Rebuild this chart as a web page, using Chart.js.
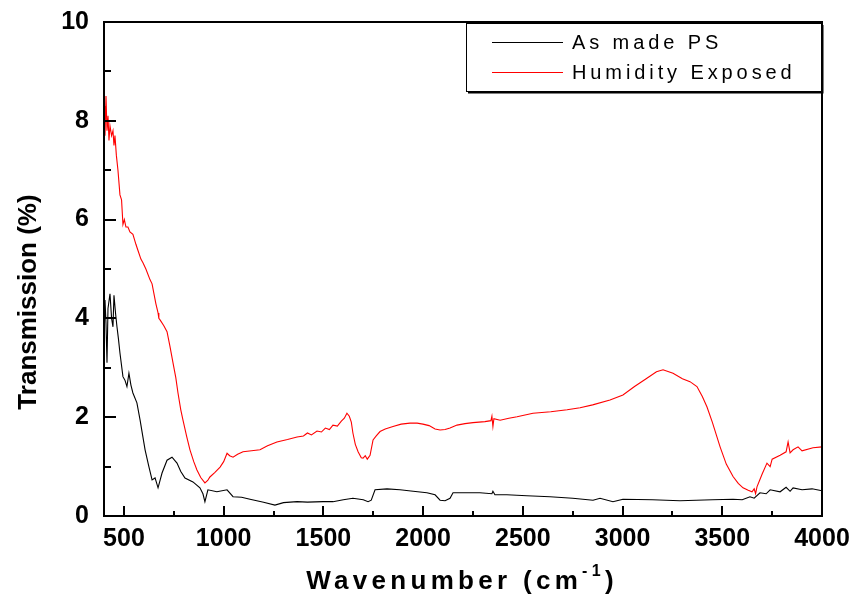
<!DOCTYPE html>
<html>
<head>
<meta charset="utf-8">
<script src="https://cdn.jsdelivr.net/npm/chart.js@4.4.1/dist/chart.umd.min.js"></script>
<style>
  html, body { margin: 0; padding: 0; background: #fff; }
  #wrap { width: 855px; height: 605px; }
</style>
</head>
<body>
<div id="wrap"><canvas id="ftirChart" width="855" height="605"></canvas></div>
<script>

// wavenumber (cm-1) and transmission (%)
const asMadeX = [400, 405, 410, 415, 420, 430, 438, 445, 450, 458, 465, 472, 480, 495, 505, 515, 525, 535, 545, 565, 581, 595, 606, 625, 641, 656, 671, 691, 716, 741, 766, 785, 806, 846, 881, 896, 906, 921, 966, 1017, 1047, 1090, 1132, 1200, 1257, 1300, 1368, 1420, 1498, 1548, 1600, 1648, 1700, 1724, 1740, 1759, 1819, 1884, 1950, 2019, 2060, 2085, 2110, 2135, 2150, 2285, 2345, 2350, 2360, 2420, 2520, 2636, 2750, 2852, 2887, 2952, 3002, 3150, 3288, 3450, 3554, 3600, 3639, 3660, 3689, 3720, 3740, 3790, 3820, 3840, 3855, 3900, 3950, 4000];
const asMadeY = [4.0, 4.37, 3.9, 3.1, 4.2, 4.5, 4.0, 3.83, 4.47, 4.1, 3.83, 3.6, 3.3, 2.82, 2.75, 2.62, 2.89, 2.65, 2.49, 2.29, 1.94, 1.6, 1.34, 1.0, 0.73, 0.77, 0.57, 0.87, 1.13, 1.19, 1.07, 0.9, 0.77, 0.69, 0.57, 0.45, 0.29, 0.53, 0.49, 0.53, 0.39, 0.38, 0.34, 0.28, 0.22, 0.27, 0.29, 0.28, 0.29, 0.29, 0.33, 0.36, 0.33, 0.29, 0.32, 0.53, 0.55, 0.53, 0.5, 0.47, 0.43, 0.32, 0.31, 0.36, 0.47, 0.47, 0.45, 0.5, 0.43, 0.43, 0.41, 0.39, 0.36, 0.32, 0.36, 0.29, 0.34, 0.33, 0.31, 0.33, 0.34, 0.33, 0.39, 0.36, 0.47, 0.45, 0.53, 0.49, 0.58, 0.5, 0.57, 0.53, 0.55, 0.51];

const humidX = [400, 405, 410, 415, 420, 425, 430, 438, 445, 450, 455, 462, 470, 480, 488, 495, 502, 510, 520, 530, 545, 560, 570, 585, 596, 610, 631, 641, 660, 671, 675, 681, 700, 716, 730, 746, 760, 771, 785, 796, 815, 831, 850, 866, 885, 906, 920, 931, 955, 982, 1000, 1017, 1030, 1047, 1070, 1097, 1140, 1182, 1220, 1267, 1320, 1368, 1400, 1420, 1440, 1468, 1490, 1510, 1530, 1548, 1570, 1590, 1605, 1618, 1630, 1640, 1648, 1660, 1674, 1690, 1699, 1710, 1720, 1734, 1749, 1765, 1784, 1810, 1849, 1890, 1934, 1970, 1999, 2030, 2060, 2085, 2110, 2135, 2170, 2210, 2250, 2310, 2340, 2345, 2350, 2355, 2386, 2430, 2471, 2551, 2640, 2722, 2787, 2850, 2937, 3002, 3060, 3122, 3170, 3203, 3253, 3300, 3338, 3373, 3400, 3423, 3450, 3489, 3520, 3554, 3580, 3604, 3630, 3649, 3660, 3667, 3674, 3700, 3724, 3740, 3750, 3790, 3820, 3830, 3840, 3855, 3880, 3900, 3955, 4000];
const humidY = [8.3, 7.7, 8.5, 7.8, 8.1, 7.6, 7.9, 7.7, 7.8, 7.5, 7.7, 7.3, 7.0, 6.5, 6.4, 5.9, 6.0, 5.85, 5.85, 5.75, 5.7, 5.5, 5.38, 5.2, 5.12, 5.0, 4.78, 4.7, 4.3, 4.11, 4.0, 3.97, 3.85, 3.73, 3.45, 3.1, 2.8, 2.49, 2.15, 1.94, 1.6, 1.34, 1.1, 0.93, 0.78, 0.67, 0.72, 0.79, 0.88, 0.99, 1.1, 1.27, 1.22, 1.19, 1.25, 1.3, 1.32, 1.34, 1.42, 1.5, 1.55, 1.6, 1.62, 1.68, 1.64, 1.72, 1.7, 1.78, 1.75, 1.84, 1.82, 1.92, 1.98, 2.08, 2.02, 1.9, 1.68, 1.45, 1.3, 1.18, 1.17, 1.22, 1.15, 1.23, 1.54, 1.62, 1.71, 1.76, 1.81, 1.86, 1.88, 1.88, 1.86, 1.83, 1.76, 1.74, 1.75, 1.78, 1.84, 1.87, 1.89, 1.91, 1.93, 2.02, 1.81, 1.97, 1.94, 1.98, 2.01, 2.08, 2.11, 2.15, 2.19, 2.25, 2.35, 2.45, 2.62, 2.79, 2.92, 2.96, 2.89, 2.78, 2.72, 2.62, 2.42, 2.21, 1.9, 1.40, 1.05, 0.80, 0.66, 0.57, 0.52, 0.49, 0.55, 0.45, 0.59, 0.85, 1.07, 1.0, 1.15, 1.23, 1.3, 1.5, 1.28, 1.34, 1.4, 1.32, 1.38, 1.40];

const xMajor = [500, 1000, 1500, 2000, 2500, 3000, 3500, 4000];
const xMinor = [750, 1250, 1750, 2250, 2750, 3250, 3750];
const yMajor = [0, 2, 4, 6, 8, 10];
const yMinor = [1, 3, 5, 7, 9];

const seriesNames = ["As made PS", "Humidity Exposed"];
const seriesColors = ["#000000", "#ff0000"];

const FONT = "Arial, 'Liberation Sans', sans-serif";

function toPoints(xs, ys) {
    return xs.map((x, i) => ({ x: x, y: ys[i] }));
}

// frame, inward ticks, axis titles and boxed legend
const framePlugin = {
    id: "frame",
    afterDraw(chart) {
        const ctx = chart.ctx;
        const a = chart.chartArea;
        const xs = chart.scales.x;
        const ys = chart.scales.y;

        ctx.save();
        ctx.strokeStyle = "#000";
        ctx.lineWidth = 2;
        ctx.strokeRect(a.left, a.top, a.right - a.left, a.bottom - a.top);

        ctx.beginPath();
        xMajor.forEach(v => {
            const p = Math.round(xs.getPixelForValue(v));
            ctx.moveTo(p, a.bottom);
            ctx.lineTo(p, a.bottom - 10);
        });
        xMinor.forEach(v => {
            const p = Math.round(xs.getPixelForValue(v));
            ctx.moveTo(p, a.bottom);
            ctx.lineTo(p, a.bottom - 5);
        });
        yMajor.forEach(v => {
            const p = Math.round(ys.getPixelForValue(v));
            ctx.moveTo(a.left, p);
            ctx.lineTo(a.left + 12, p);
        });
        yMinor.forEach(v => {
            const p = Math.round(ys.getPixelForValue(v));
            ctx.moveTo(a.left, p);
            ctx.lineTo(a.left + 7, p);
        });
        ctx.stroke();

        // x title with superscript
        ctx.fillStyle = "#000";
        ctx.textBaseline = "alphabetic";
        ctx.letterSpacing = "4.3px";
        const part1 = "Wavenumber (cm";
        const part3 = ")";
        ctx.font = "bold 26px " + FONT;
        const w1 = ctx.measureText(part1).width;
        ctx.font = "bold 16px " + FONT;
        const w2 = ctx.measureText("-1").width;
        ctx.font = "bold 26px " + FONT;
        const w3 = ctx.measureText(part3).width;
        let tx = 462 - (w1 + w2 + w3) / 2;
        const ty = 589;
        ctx.textAlign = "left";
        ctx.fillText(part1, tx, ty);
        tx += w1;
        ctx.font = "bold 16px " + FONT;
        ctx.fillText("-1", tx, ty - 13);
        tx += w2;
        ctx.font = "bold 26px " + FONT;
        ctx.fillText(part3, tx, ty);

        // y title
        ctx.letterSpacing = "0px";
        ctx.save();
        ctx.translate(36, 302);
        ctx.rotate(-Math.PI / 2);
        ctx.textAlign = "center";
        ctx.font = "bold 26px " + FONT;
        ctx.fillText("Transmission (%)", 0, 0);
        ctx.restore();

        // legend box
        const bx = 466, by = 23, bw = 355, bh = 68;
        ctx.fillStyle = "#fff";
        ctx.fillRect(bx, by, bw, bh);
        ctx.lineWidth = 1;
        ctx.strokeStyle = "#000";
        ctx.strokeRect(bx + 0.5, by + 0.5, bw, bh);
        ctx.lineWidth = 2;
        ctx.beginPath();
        ctx.moveTo(bx + bw + 1.5, by + 2);
        ctx.lineTo(bx + bw + 1.5, by + bh + 1.5);
        ctx.lineTo(bx + 2, by + bh + 1.5);
        ctx.stroke();

        ctx.font = "20px " + FONT;
        ctx.letterSpacing = "3.9px";
        ctx.textAlign = "left";
        ctx.textBaseline = "middle";
        chart.data.datasets.forEach((ds, i) => {
            const ly = 42 + i * 30;
            ctx.strokeStyle = ds.borderColor;
            ctx.lineWidth = 1;
            ctx.beginPath();
            ctx.moveTo(492, ly + 0.5);
            ctx.lineTo(563, ly + 0.5);
            ctx.stroke();
            ctx.fillStyle = "#000";
            ctx.fillText(ds.label, 572, ly + 1);
        });
        ctx.restore();
    }
};

const ctx = document.getElementById("ftirChart");

new Chart(ctx, {
    type: "line",
    data: {
        datasets: [
            {
                label: seriesNames[0],
                data: toPoints(asMadeX, asMadeY),
                borderColor: seriesColors[0],
                borderWidth: 1.1,
                pointRadius: 0,
                tension: 0
            },
            {
                label: seriesNames[1],
                data: toPoints(humidX, humidY),
                borderColor: seriesColors[1],
                borderWidth: 1.1,
                pointRadius: 0,
                tension: 0
            }
        ]
    },
    options: {
        responsive: false,
        animation: false,
        layout: {
            padding: { left: 0, right: 33, top: 22, bottom: 0 }
        },
        plugins: {
            legend: { display: false },
            tooltip: { enabled: false }
        },
        scales: {
            x: {
                type: "linear",
                min: 400,
                max: 4000,
                afterBuildTicks: (scale) => {
                    scale.ticks = xMajor.map(v => ({ value: v }));
                },
                afterFit: (scale) => {
                    scale.height = 89;
                    scale.paddingLeft = 0;
                    scale.paddingRight = 0;
                },
                grid: { display: false, drawTicks: false },
                border: { display: false },
                ticks: {
                    padding: 8,
                    color: "#000",
                    maxRotation: 0,
                    autoSkip: false,
                    callback: (v) => String(v),
                    font: { family: FONT, size: 25, weight: "bold" }
                }
            },
            y: {
                min: 0,
                max: 10,
                afterBuildTicks: (scale) => {
                    scale.ticks = yMajor.map(v => ({ value: v }));
                },
                afterFit: (scale) => {
                    scale.width = 104;
                    scale.paddingTop = 0;
                    scale.paddingBottom = 0;
                },
                grid: { display: false, drawTicks: false },
                border: { display: false },
                ticks: {
                    padding: 15,
                    color: "#000",
                    callback: (v) => String(v),
                    font: { family: FONT, size: 25, weight: "bold" }
                }
            }
        }
    },
    plugins: [framePlugin]
});

</script>
</body>
</html>
